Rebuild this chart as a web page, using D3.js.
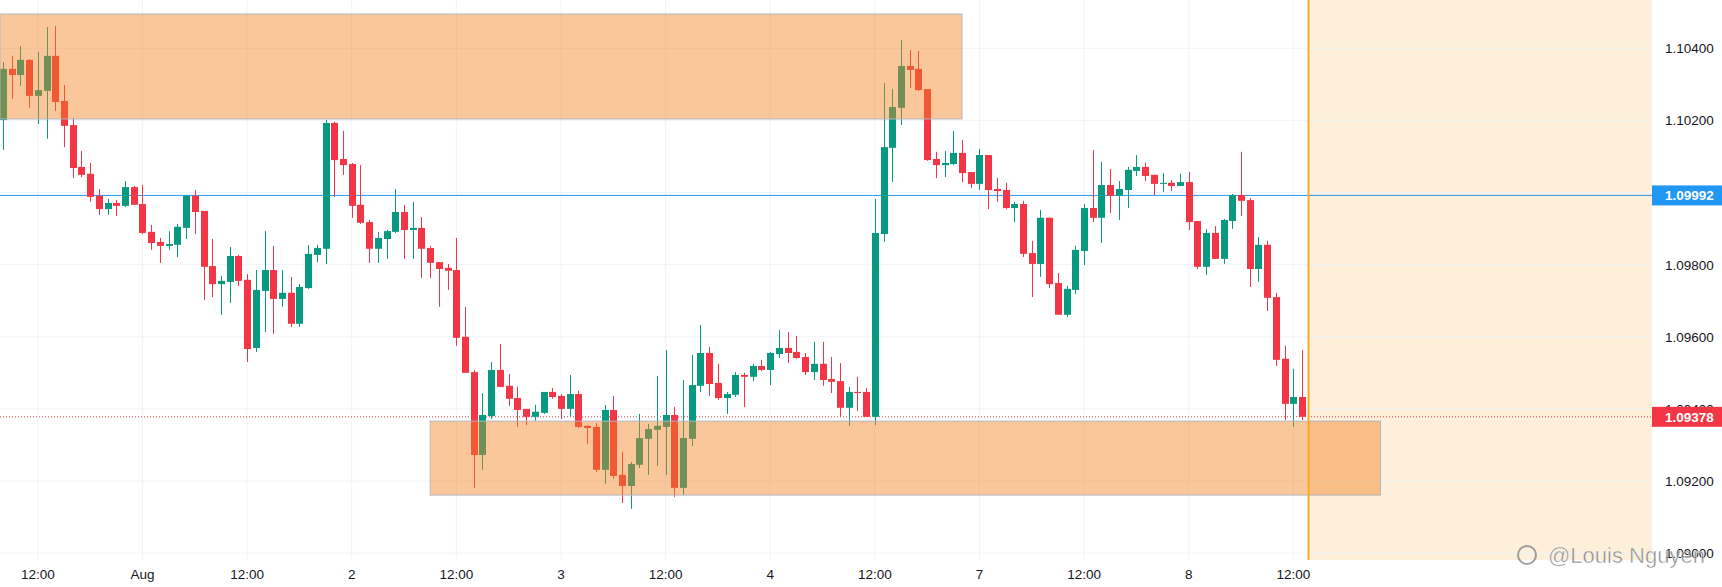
<!DOCTYPE html>
<html><head><meta charset="utf-8">
<script src="https://cdn.jsdelivr.net/npm/d3@7"></script>
<style>html,body{margin:0;padding:0;background:#fff;overflow:hidden}</style>
</head><body><svg id="c" width="1722" height="587"></svg>
<script>
const openP=[1.10201,1.10343,1.10326,1.10368,1.10268,1.10282,1.10379,1.10254,1.10187,1.10071,1.10052,1.09991,1.09954,1.09971,1.09963,1.10015,1.09968,1.09891,1.09863,1.09852,1.09855,1.09902,1.09991,1.09949,1.09796,1.09746,1.09752,1.09824,1.09758,1.09569,1.09727,1.09785,1.09705,1.09722,1.09636,1.09735,1.09827,1.09844,1.10193,1.10093,1.10079,1.09966,1.09918,1.09844,1.09871,1.09891,1.09946,1.09896,1.09902,1.09846,1.09807,1.09791,1.09785,1.09600,1.09502,1.09272,1.09380,1.09508,1.09464,1.09430,1.09400,1.09378,1.09389,1.09447,1.09436,1.09400,1.09441,1.09353,1.09350,1.09231,1.09397,1.09217,1.09186,1.09245,1.09317,1.09342,1.09350,1.09383,1.09181,1.09317,1.09464,1.09555,1.09472,1.09430,1.09439,1.09494,1.09489,1.09519,1.09508,1.09552,1.09569,1.09558,1.09544,1.09502,1.09525,1.09483,1.09477,1.09403,1.09447,1.09447,1.09378,1.09885,1.10124,1.10235,1.10351,1.10343,1.10287,1.10093,1.10076,1.10079,1.10110,1.10057,1.10024,1.10104,1.10010,1.10007,1.09957,1.09968,1.09832,1.09802,1.09930,1.09749,1.09661,1.09730,1.09838,1.09957,1.09930,1.10021,1.09991,1.10007,1.10060,1.10071,1.10049,1.10024,1.10027,1.10018,1.10029,1.09921,1.09794,1.09888,1.09816,1.09921,1.09993,1.09979,1.09788,1.09855,1.09710,1.09539,1.09414,1.09433];
const highP=[1.10362,1.10379,1.10406,1.10370,1.10390,1.10459,1.10462,1.10298,1.10207,1.10115,1.10082,1.10010,1.09982,1.09979,1.10032,1.10018,1.10021,1.09910,1.09874,1.09893,1.09913,1.09993,1.10007,1.09949,1.09871,1.09769,1.09849,1.09827,1.09774,1.09785,1.09893,1.09852,1.09785,1.09766,1.09746,1.09855,1.09855,1.10201,1.10196,1.10171,1.10082,1.10076,1.09924,1.09891,1.09896,1.10010,1.09966,1.09974,1.09932,1.09852,1.09807,1.09802,1.09874,1.09683,1.09508,1.09444,1.09530,1.09580,1.09497,1.09461,1.09400,1.09411,1.09447,1.09458,1.09441,1.09494,1.09450,1.09355,1.09361,1.09411,1.09436,1.09281,1.09253,1.09386,1.09358,1.09491,1.09563,1.09405,1.09480,1.09550,1.09633,1.09572,1.09525,1.09447,1.09502,1.09500,1.09525,1.09536,1.09558,1.09619,1.09613,1.09602,1.09555,1.09586,1.09586,1.09544,1.09527,1.09461,1.09489,1.09458,1.09982,1.10304,1.10287,1.10423,1.10395,1.10393,1.10287,1.10113,1.10115,1.10171,1.10146,1.10057,1.10121,1.10104,1.10040,1.10027,1.09974,1.09977,1.09866,1.09952,1.09930,1.09777,1.09741,1.09852,1.09968,1.10118,1.10085,1.10065,1.10032,1.10071,1.10104,1.10082,1.10049,1.10054,1.10035,1.10052,1.10057,1.09921,1.09899,1.09907,1.09927,1.09996,1.10113,1.09985,1.09877,1.09866,1.09722,1.09575,1.09511,1.09563];
const lowP=[1.10118,1.10260,1.10296,1.10235,1.10190,1.10149,1.10226,1.10126,1.10040,1.10043,1.09974,1.09938,1.09938,1.09935,1.09960,1.09966,1.09885,1.09841,1.09805,1.09841,1.09821,1.09871,1.09885,1.09702,1.09710,1.09661,1.09694,1.09741,1.09530,1.09558,1.09613,1.09608,1.09683,1.09627,1.09627,1.09733,1.09807,1.09802,1.09988,1.10049,1.09930,1.09913,1.09805,1.09805,1.09816,1.09888,1.09816,1.09816,1.09763,1.09763,1.09683,1.09730,1.09575,1.09500,1.09181,1.09231,1.09372,1.09461,1.09408,1.09350,1.09355,1.09367,1.09386,1.09428,1.09372,1.09378,1.09347,1.09303,1.09225,1.09192,1.09206,1.09139,1.09123,1.09236,1.09217,1.09242,1.09217,1.09156,1.09161,1.09297,1.09447,1.09436,1.09425,1.09386,1.09433,1.09405,1.09477,1.09505,1.09466,1.09541,1.09527,1.09539,1.09494,1.09480,1.09464,1.09444,1.09378,1.09353,1.09394,1.09378,1.09355,1.09863,1.10029,1.10187,1.10290,1.10282,1.10088,1.10040,1.10043,1.10076,1.10029,1.10013,1.10007,1.09954,1.09974,1.09954,1.09918,1.09821,1.09710,1.09766,1.09735,1.09661,1.09655,1.09719,1.09799,1.09918,1.09860,1.09943,1.09924,1.09957,1.10046,1.10032,1.09993,1.10002,1.10004,1.10018,1.09896,1.09788,1.09771,1.09816,1.09802,1.09899,1.09935,1.09738,1.09752,1.09672,1.09519,1.09369,1.09350,1.09369];
const closeP=[1.10343,1.10326,1.10368,1.10268,1.10284,1.10379,1.10251,1.10185,1.10068,1.10049,1.09988,1.09954,1.09971,1.09963,1.10015,1.09966,1.09888,1.09860,1.09852,1.09857,1.09905,1.09991,1.09946,1.09794,1.09746,1.09755,1.09824,1.09755,1.09566,1.09730,1.09785,1.09705,1.09722,1.09636,1.09738,1.09830,1.09846,1.10193,1.10090,1.10076,1.09963,1.09916,1.09844,1.09874,1.09893,1.09946,1.09896,1.09902,1.09844,1.09805,1.09788,1.09783,1.09597,1.09500,1.09272,1.09383,1.09508,1.09461,1.09428,1.09397,1.09378,1.09392,1.09447,1.09433,1.09400,1.09441,1.09350,1.09347,1.09231,1.09397,1.09214,1.09186,1.09247,1.09319,1.09344,1.09353,1.09383,1.09181,1.09319,1.09466,1.09555,1.09469,1.09430,1.09441,1.09494,1.09489,1.09519,1.09508,1.09555,1.09569,1.09555,1.09541,1.09502,1.09525,1.09480,1.09475,1.09403,1.09447,1.09444,1.09378,1.09888,1.10126,1.10237,1.10351,1.10340,1.10284,1.10090,1.10076,1.10082,1.10110,1.10054,1.10024,1.10104,1.10007,1.10004,1.09957,1.09968,1.09830,1.09802,1.09930,1.09746,1.09661,1.09733,1.09841,1.09957,1.09930,1.10021,1.09991,1.10010,1.10063,1.10071,1.10046,1.10024,1.10027,1.10018,1.10029,1.09918,1.09794,1.09888,1.09816,1.09924,1.09993,1.09977,1.09788,1.09855,1.09708,1.09536,1.09414,1.09433,1.09378];
const tickLabels=["12:00","Aug","12:00","2","12:00","3","12:00","4","12:00","7","12:00","8","12:00"];
const tickIndex=[4,16,28,40,52,64,76,88,100,112,124,136,148];
const priceTicks=[1.104,1.102,1.100,1.098,1.096,1.094,1.092,1.090];
const zones=[{from:-1,to:110,top:1.10495,bottom:1.10204},{from:49,to:158,top:1.09366,bottom:1.09161}];
const blueLevel=1.09992, lastPrice=1.09378, nowIndex=149.75;

const svg=d3.select("#c"), W=1722, plotR=1652, plotB=560;
const x=d3.scaleLinear().domain([0,149]).range([3,1302]);
const y=d3.scaleLinear().domain([1.092,1.104]).range([481,48.3]);
const font="Liberation Sans, Arial, sans-serif";
// future shade
svg.append("rect").attr("x",x(nowIndex)).attr("y",0).attr("width",plotR-x(nowIndex)).attr("height",plotB).attr("fill","#fdefd9");
// grid
svg.append("g").selectAll("line").data(priceTicks).join("line").attr("x1",0).attr("x2",plotR).attr("y1",d=>y(d)).attr("y2",d=>y(d)).attr("stroke","#f0f3fa");
svg.append("g").selectAll("line").data(tickIndex).join("line").attr("x1",d=>x(d)).attr("x2",d=>x(d)).attr("y1",0).attr("y2",plotB).attr("stroke","#f0f3fa");
// blue level
svg.append("line").attr("x1",0).attr("x2",plotR).attr("y1",y(blueLevel)).attr("y2",y(blueLevel)).attr("stroke","#2196f3").attr("stroke-width",1);
svg.append("line").attr("x1",0).attr("x2",plotR).attr("y1",y(lastPrice)).attr("y2",y(lastPrice)).attr("stroke","#f23645").attr("stroke-dasharray","1,2");
// candles
const data=openP.map((o,i)=>({i,o,h:highP[i],l:lowP[i],c:closeP[i]}));
const g=svg.append("g");
data.forEach(d=>{
  const col=d.c>=d.o?"#089981":"#f23645";
  const cx=Math.round(x(d.i));
  g.append("line").attr("x1",cx+0.5).attr("x2",cx+0.5).attr("y1",y(d.h)).attr("y2",y(d.l)).attr("stroke",col).attr("stroke-width",1);
  const t=y(Math.max(d.o,d.c)), b=y(Math.min(d.o,d.c));
  g.append("rect").attr("x",cx-3).attr("width",7).attr("y",t).attr("height",Math.max(1,b-t)).attr("fill",col);
});
// zones
zones.forEach(z=>{
  const x0=Math.max(0,x(z.from)), x1=x(z.to);
  svg.append("rect").attr("x",x0).attr("y",y(z.top)).attr("width",x1-x0).attr("height",y(z.bottom)-y(z.top))
   .attr("fill","rgba(245,130,30,0.45)").attr("stroke","#b2b5be").attr("stroke-width",1);
});
// now line
svg.append("line").attr("x1",x(nowIndex)).attr("x2",x(nowIndex)).attr("y1",0).attr("y2",plotB).attr("stroke","#ffa726").attr("stroke-width",2);
// price axis
svg.append("rect").attr("x",plotR).attr("y",0).attr("width",W-plotR).attr("height",587).attr("fill","#fff");
svg.append("g").selectAll("text").data(priceTicks).join("text").attr("x",1665).attr("y",d=>y(d)+5).text(d=>d.toFixed(5))
  .attr("font-family",font).attr("font-size",13.5).attr("fill","#131722");
[[blueLevel,"#2196f3"],[lastPrice,"#f23645"]].forEach(([p,c])=>{
  svg.append("rect").attr("x",plotR).attr("y",y(p)-10).attr("width",W-plotR).attr("height",20).attr("fill",c);
  svg.append("text").attr("x",1665).attr("y",y(p)+5).text(p.toFixed(5)).attr("font-family",font).attr("font-size",13.5).attr("font-weight","bold").attr("fill","#fff");
});
// time axis
svg.append("rect").attr("x",0).attr("y",plotB).attr("width",W).attr("height",587-plotB).attr("fill","#fff");
svg.append("g").selectAll("text").data(tickIndex).join("text").attr("x",d=>x(d)).attr("y",579).attr("text-anchor","middle")
  .text((d,i)=>tickLabels[i]).attr("font-family",font).attr("font-size",13.5).attr("fill","#131722");
// watermark
svg.append("circle").attr("cx",1527).attr("cy",555).attr("r",9).attr("fill","none").attr("stroke","rgba(120,120,120,0.7)").attr("stroke-width",2);
svg.append("text").attr("x",1548).attr("y",563).text("@Louis Nguyen").attr("font-family",font).attr("font-size",22).attr("fill","rgba(110,110,110,0.75)").attr("stroke","rgba(255,255,255,0.8)").attr("stroke-width",0.5);
</script></body></html>
